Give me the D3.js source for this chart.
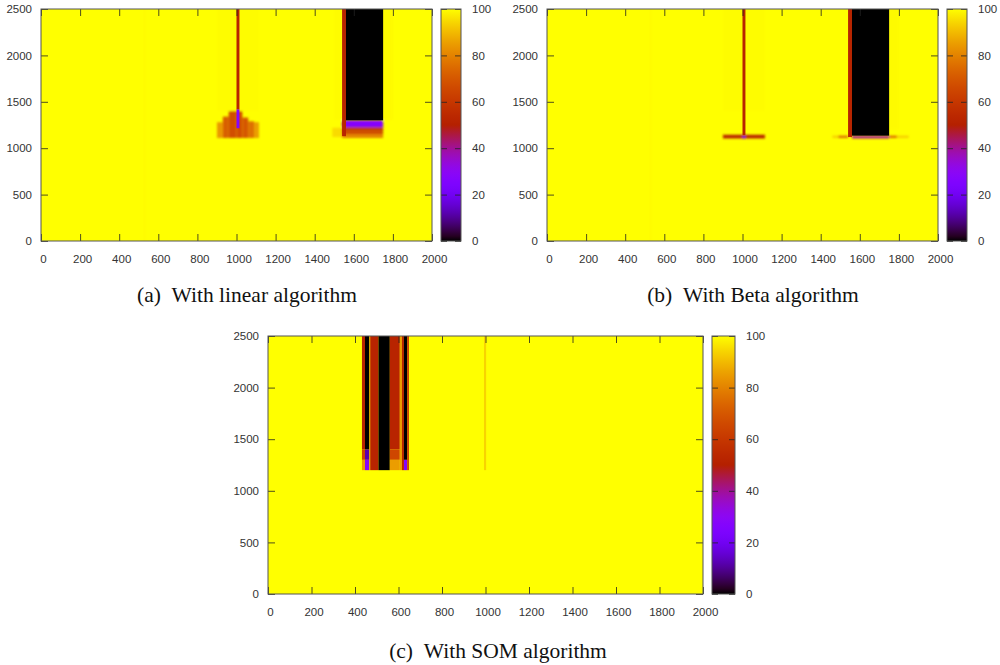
<!DOCTYPE html>
<html>
<head>
<meta charset="utf-8">
<title>Algorithm heat maps</title>
<script src="https://d3js.org/d3.v7.min.js"></script>
<style>
  html, body { margin: 0; padding: 0; background: #fff; }
  svg { display: block; }
  .tick text { font-family: "Liberation Sans", Arial, sans-serif; font-size: 11.5px; fill: #333; }
  .domain { display: none; }
  .caption { font-family: "Liberation Serif", "Times New Roman", serif; font-size: 21.5px; fill: #111; text-anchor: middle; }
</style>
</head>
<body>
<script>
const xTicks = [0, 200, 400, 600, 800, 1000, 1200, 1400, 1600, 1800, 2000];
const yTicks = [0, 500, 1000, 1500, 2000, 2500];
const barTicks = [0, 20, 40, 60, 80, 100];

// each cell: x from, x to, y from, y to, value
// soft = smoothed like the gnuplot interpolation, sharp = drawn on top of it
const linearSoft = [
  [525, 535, 0, 2500, 99.4],
  [900, 1115, 1400, 2500, 99.6],
  [1500, 1540, 1300, 2500, 99.6],
  [1750, 1800, 1300, 2500, 99.4],
  [900, 930, 1110, 1280, 84],
  [930, 960, 1110, 1340, 72],
  [960, 1000, 1110, 1400, 67],
  [1000, 1030, 1110, 1400, 67],
  [1030, 1060, 1110, 1330, 70],
  [1060, 1090, 1110, 1290, 76],
  [1090, 1115, 1110, 1280, 85],
  [1490, 1540, 1120, 1220, 95],
  [1540, 1750, 1110, 1150, 80],
  [1540, 1750, 1150, 1190, 66],
  [1540, 1750, 1190, 1225, 55],
  [1540, 1750, 1225, 1300, 27]
];
const linearSharp = [
  [1000, 1015, 1215, 1420, 27],
  [1000, 1015, 1420, 2500, 52],
  [1540, 1560, 1130, 2500, 52],
  [1560, 1750, 1300, 2500, 0]
];

const betaSoft = [
  [525, 535, 0, 2500, 99.4],
  [900, 1000, 1400, 2500, 99.6],
  [1015, 1115, 1400, 2500, 99.6],
  [1750, 1800, 1200, 2500, 99.4],
  [900, 1115, 1105, 1145, 52],
  [1460, 1490, 1110, 1135, 93],
  [1490, 1540, 1110, 1135, 75],
  [1750, 1790, 1110, 1135, 75],
  [1790, 1850, 1110, 1135, 93],
  [1000, 1015, 1105, 1140, 27],
  [1560, 1750, 1105, 1135, 40]
];
const betaSharp = [
  [1000, 1015, 1140, 2500, 52],
  [1540, 1560, 1120, 2500, 52],
  [1560, 1750, 1135, 2500, 0]
];

const somSharp = [
  [993, 1003, 1200, 2500, 94],
  [432, 446, 1400, 2500, 52],
  [432, 446, 1300, 1400, 65],
  [432, 446, 1200, 1300, 85],
  [446, 466, 1400, 2500, 0],
  [446, 466, 1300, 1400, 12],
  [446, 466, 1200, 1300, 28],
  [466, 470, 1200, 2500, 85],
  [470, 508, 1200, 2500, 52],
  [508, 560, 1200, 2500, 0],
  [560, 606, 1400, 2500, 52],
  [560, 606, 1300, 1400, 65],
  [560, 606, 1200, 1300, 85],
  [606, 616, 1200, 2500, 85],
  [616, 625, 1200, 2500, 52],
  [625, 640, 1300, 2500, 0],
  [625, 640, 1200, 1300, 27],
  [640, 648, 1200, 2500, 62]
];

const panels = [
  { soft: linearSoft, sharp: linearSharp, caption: "(a)\u2002With linear algorithm", left: 41, top: 9, w: 391, h: 232, barLeft: 441, barW: 20, capX: 247, capY: 302 },
  { soft: betaSoft, sharp: betaSharp, caption: "(b)\u2002With Beta algorithm", left: 547, top: 9, w: 391, h: 232, barLeft: 947, barW: 20, capX: 753, capY: 302 },
  { soft: [], sharp: somSharp, caption: "(c)\u2002With SOM algorithm", left: 268, top: 336, w: 435, h: 258, barLeft: 712, barW: 23, capX: 498, capY: 658 }
];

// gnuplot default palette (rgbformulae 7,5,15)
const palette = v => {
  const t = Math.max(0, Math.min(1, v / 100));
  const b = Math.max(0, Math.sin(2 * Math.PI * t));
  return d3.rgb(255 * Math.sqrt(t), 255 * t * t * t, 255 * b).formatHex();
};

const svg = d3.select("body").append("svg").attr("width", 1000).attr("height", 665);
const defs = svg.append("defs");
const border = "#555";

defs.append("filter").attr("id", "soften")
  .attr("filterUnits", "userSpaceOnUse")
  .attr("x", 0).attr("y", 0).attr("width", 1000).attr("height", 665)
  .append("feGaussianBlur").attr("stdDeviation", 1.1);

panels.forEach((p, i) => {
  const x = d3.scaleLinear().domain([0, 2000]).range([p.left, p.left + p.w]);
  const y = d3.scaleLinear().domain([0, 2500]).range([p.top + p.h, p.top]);
  const c = d3.scaleLinear().domain([0, 100]).range([p.top + p.h, p.top]);

  defs.append("clipPath").attr("id", "clip" + i).append("rect")
    .attr("x", p.left).attr("y", p.top).attr("width", p.w).attr("height", p.h);

  const g = svg.append("g");
  const map = g.append("g").attr("clip-path", `url(#clip${i})`);

  map.append("rect")
    .attr("x", p.left).attr("y", p.top)
    .attr("width", p.w).attr("height", p.h)
    .attr("fill", palette(100));

  const drawCells = (layer, cells) => layer.selectAll("rect").data(cells).enter().append("rect")
    .attr("x", d => x(d[0]))
    .attr("y", d => y(d[3] === 2500 ? 2600 : d[3]))
    .attr("width", d => x(d[1]) - x(d[0]))
    .attr("height", d => y(d[2] === 0 ? -100 : d[2]) - y(d[3] === 2500 ? 2600 : d[3]))
    .attr("fill", d => palette(d[4]));

  drawCells(map.append("g").attr("filter", "url(#soften)"), p.soft);
  drawCells(map.append("g"), p.sharp);

  // colour bar
  const gradId = "bar" + i;
  const grad = defs.append("linearGradient").attr("id", gradId)
    .attr("x1", 0).attr("y1", 1).attr("x2", 0).attr("y2", 0);
  d3.range(0, 101, 2).forEach(v => {
    grad.append("stop").attr("offset", v + "%").attr("stop-color", palette(v));
  });
  g.append("rect")
    .attr("x", p.barLeft).attr("y", p.top)
    .attr("width", p.barW).attr("height", p.h)
    .attr("fill", `url(#${gradId})`);

  // axes
  const axisBottom = g.append("g").attr("transform", `translate(0,${p.top + p.h})`)
    .call(d3.axisBottom(x).tickValues(xTicks).tickFormat(d3.format("d")).tickSize(-7).tickPadding(14));
  g.append("g").attr("transform", `translate(${p.left},0)`)
    .call(d3.axisLeft(y).tickValues(yTicks).tickFormat(d3.format("d")).tickSize(-7).tickPadding(9));
  g.append("g").attr("transform", `translate(0,${p.top})`)
    .call(d3.axisTop(x).tickValues(xTicks).tickFormat("").tickSize(-7));
  g.append("g").attr("transform", `translate(${p.left + p.w},0)`)
    .call(d3.axisRight(y).tickValues(yTicks).tickFormat("").tickSize(-7));
  axisBottom.selectAll(".tick text").attr("dx", 2);

  const barAxis = g.append("g").attr("transform", `translate(${p.barLeft + p.barW},0)`)
    .call(d3.axisRight(c).tickValues(barTicks).tickFormat(d3.format("d")).tickSize(-6).tickPadding(11));
  g.append("g").attr("transform", `translate(${p.barLeft},0)`)
    .call(d3.axisLeft(c).tickValues(barTicks).tickFormat("").tickSize(-6));
  barAxis.selectAll(".tick text").attr("text-anchor", "start");

  g.selectAll(".tick line").attr("stroke", "#222").attr("stroke-width", 0.8);

  g.append("rect")
    .attr("x", p.left).attr("y", p.top).attr("width", p.w).attr("height", p.h)
    .attr("fill", "none").attr("stroke", border).attr("stroke-width", 1);
  g.append("rect")
    .attr("x", p.barLeft).attr("y", p.top).attr("width", p.barW).attr("height", p.h)
    .attr("fill", "none").attr("stroke", border).attr("stroke-width", 1);

  svg.append("text").attr("class", "caption")
    .attr("x", p.capX).attr("y", p.capY).text(p.caption);
});
</script>
</body>
</html>
